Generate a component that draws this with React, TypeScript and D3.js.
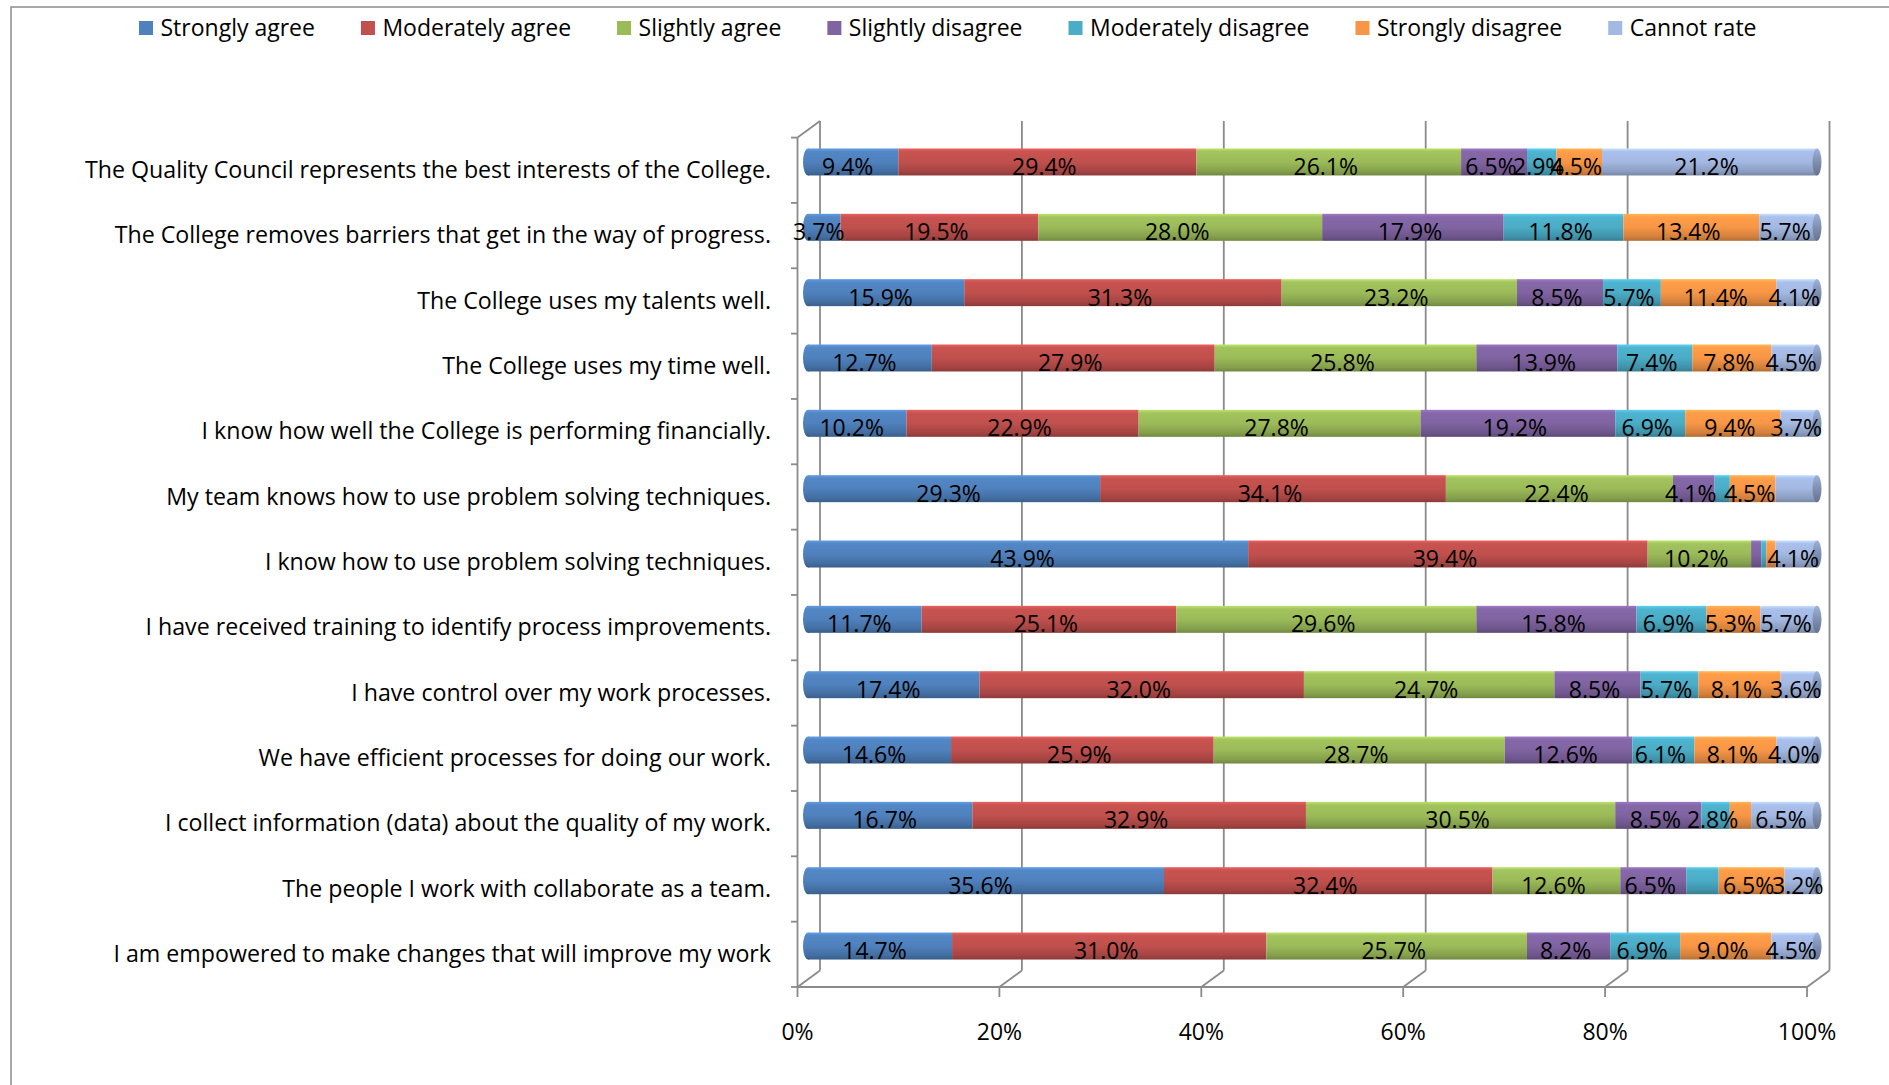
import React from "react";
import * as d3 from "d3";

// Survey statements, listed top to bottom
const categories = [
  "The Quality Council represents the best interests of the College.",
  "The College removes barriers that get in the way of progress.",
  "The College uses my talents well.",
  "The College uses my time well.",
  "I know how well the College is performing financially.",
  "My team knows how to use problem solving techniques.",
  "I know how to use problem solving techniques.",
  "I have received training to identify process improvements.",
  "I have control over my work processes.",
  "We have efficient processes for doing our work.",
  "I collect information (data) about the quality of my work.",
  "The people I work with collaborate as a team.",
  "I am empowered to make changes that will improve my work",
];

const seriesNames = [
  "Strongly agree",
  "Moderately agree",
  "Slightly agree",
  "Slightly disagree",
  "Moderately disagree",
  "Strongly disagree",
  "Cannot rate",
];

const seriesColors = ["#4F81BD", "#C0504D", "#9BBB59", "#8064A2", "#4BACC6", "#F79646", "#A3B8E2"];

// Percent of respondents per answer, one value per statement
const stronglyAgree = [9.4, 3.7, 15.9, 12.7, 10.2, 29.3, 43.9, 11.7, 17.4, 14.6, 16.7, 35.6, 14.7];
const moderatelyAgree = [29.4, 19.5, 31.3, 27.9, 22.9, 34.1, 39.4, 25.1, 32.0, 25.9, 32.9, 32.4, 31.0];
const slightlyAgree = [26.1, 28.0, 23.2, 25.8, 27.8, 22.4, 10.2, 29.6, 24.7, 28.7, 30.5, 12.6, 25.7];
const slightlyDisagree = [6.5, 17.9, 8.5, 13.9, 19.2, 4.1, 1.0, 15.8, 8.5, 12.6, 8.5, 6.5, 8.2];
const moderatelyDisagree = [2.9, 11.8, 5.7, 7.4, 6.9, 1.5, 0.5, 6.9, 5.7, 6.1, 2.8, 3.2, 6.9];
const stronglyDisagree = [4.5, 13.4, 11.4, 7.8, 9.4, 4.5, 0.9, 5.3, 8.1, 8.1, 2.1, 6.5, 9.0];
const cannotRate = [21.2, 5.7, 4.1, 4.5, 3.7, 4.1, 4.1, 5.7, 3.6, 4.0, 6.5, 3.2, 4.5];

// Data labels that are switched off: [statement index, series index]
const hiddenLabels = [
  [5, 4],
  [5, 6],
  [6, 3],
  [6, 4],
  [6, 5],
  [10, 5],
  [11, 4],
];

const xTicks = [0, 20, 40, 60, 80, 100];

const seriesValues = [
  stronglyAgree,
  moderatelyAgree,
  slightlyAgree,
  slightlyDisagree,
  moderatelyDisagree,
  stronglyDisagree,
  cannotRate,
];

const FONT = "'Open Sans', 'DejaVu Sans', sans-serif";
const W = 1889;
const H = 1085;
const GRID = "#8a8a8a";

// Oblique depth of the 3-D plot box (back wall relative to front)
const DX = 22.5;
const DY = -16.5;

function measure(text: string, size: number): number {
  if (typeof document !== "undefined") {
    const c = document.createElement("canvas").getContext("2d");
    if (c) {
      c.font = `${size}px 'Open Sans'`;
      return c.measureText(text).width;
    }
  }
  return text.length * size * 0.5;
}

export default function App() {
  const rows = categories.map((c, i) => {
    const r: Record<string, any> = { category: c };
    seriesNames.forEach((s, k) => (r[s] = seriesValues[k][i]));
    return r;
  });
  const stacked = d3.stack<Record<string, any>>().keys(seriesNames)(rows);

  const xFront = d3.scaleLinear().domain([0, 100]).range([797.5, 1807]);
  const xBar = d3.scaleLinear().domain([0, 100]).range([803, 1817]);
  const yFront = d3.scaleBand<string>().domain(categories).range([137.6, 987]).paddingInner(0);
  const bw = yFront.bandwidth();
  const barH = 27;
  const barY = (c: string) => (yFront(c) as number) + bw / 2 - 8.3;

  const floorY = yFront.range()[1];
  const topY = yFront.range()[0];

  const hidden = new Set(hiddenLabels.map(([r, s]) => `${r}-${s}`));

  // legend layout
  const legendSize = 23;
  let lx = 139;
  const legendItems = seriesNames.map((s, k) => {
    const item = { name: s, x: lx, color: seriesColors[k] };
    lx += 21.5 + measure(s, legendSize) + 46;
    return item;
  });

  const capColor = d3.color(seriesColors[6])!.darker(0.7).formatHex();

  return (
    <div style={{ position: "absolute", left: 0, top: 0, width: W, height: H, background: "#fff" }}>
      <svg width={W} height={H} style={{ display: "block" }} fontFamily={FONT}>
        <defs>
          {seriesColors.map((c, k) => {
            const base = d3.color(c)!;
            return (
              <linearGradient key={k} id={`cyl${k}`} x1="0" y1="0" x2="0" y2="1">
                <stop offset="0" stopColor={base.brighter(0.55).formatHex()} />
                <stop offset="0.12" stopColor={base.brighter(0.12).formatHex()} />
                <stop offset="0.5" stopColor={base.formatHex()} />
                <stop offset="0.85" stopColor={base.darker(0.45).formatHex()} />
                <stop offset="1" stopColor={base.darker(0.9).formatHex()} />
              </linearGradient>
            );
          })}
          <linearGradient id="capGrad" x1="0" y1="0" x2="0" y2="1">
            <stop offset="0" stopColor={d3.color(capColor)!.brighter(0.6).formatHex()} />
            <stop offset="0.5" stopColor={capColor} />
            <stop offset="1" stopColor={d3.color(capColor)!.darker(0.6).formatHex()} />
          </linearGradient>
        </defs>

        {/* chart area frame */}
        <path d={`M11,${H} V7 H${W}`} fill="none" stroke={GRID} strokeWidth={1.5} />

        {/* legend */}
        {legendItems.map((it) => (
          <g key={it.name}>
            <rect x={it.x} y={21} width={14} height={14} fill={it.color} />
            <text x={it.x + 21.5} y={36} fontSize={legendSize} fill="#000">
              {it.name}
            </text>
          </g>
        ))}

        {/* back wall gridlines and floor */}
        {xTicks.map((t) => (
          <g key={t} stroke={GRID} strokeWidth={1.8} fill="none">
            <line x1={xFront(t) + DX} x2={xFront(t) + DX} y1={topY + DY} y2={floorY + DY} />
            <line x1={xFront(t)} y1={floorY} x2={xFront(t) + DX} y2={floorY + DY} />
            <line x1={xFront(t)} x2={xFront(t)} y1={floorY} y2={floorY + 10} />
          </g>
        ))}
        <line x1={xFront(0)} x2={xFront(100)} y1={floorY} y2={floorY} stroke={GRID} strokeWidth={2} />
        {/* left wall */}
        <line x1={xFront(0)} x2={xFront(0)} y1={topY} y2={floorY} stroke={GRID} strokeWidth={1.8} />
        <line x1={xFront(0)} y1={topY} x2={xFront(0) + DX} y2={topY + DY} stroke={GRID} strokeWidth={1.8} />
        {d3.range(categories.length + 1).map((i) => {
          const y = topY + i * bw;
          return <line key={i} x1={xFront(0) - 6.5} x2={xFront(0)} y1={y} y2={y} stroke={GRID} strokeWidth={1.8} />;
        })}

        {/* cylinder bars */}
        {categories.map((c, i) => {
          const cy = barY(c);
          return (
            <g key={c}>
              <ellipse cx={xBar(0) + 5} cy={cy} rx={5} ry={barH / 2} fill="url(#cyl0)" />
              {stacked.map((s, k) => {
                const [a, b] = s[i];
                const x0 = k === 0 ? xBar(a) + 5 : xBar(a);
                return (
                  <rect
                    key={k}
                    x={x0}
                    y={cy - barH / 2}
                    width={Math.max(0, xBar(b) - x0)}
                    height={barH}
                    fill={`url(#cyl${k})`}
                  />
                );
              })}
              <ellipse cx={xBar(100)} cy={cy} rx={4.5} ry={barH / 2} fill="url(#capGrad)" />
            </g>
          );
        })}

        {/* data labels */}
        {categories.map((c, i) =>
          stacked.map((s, k) => {
            if (hidden.has(`${i}-${k}`)) return null;
            const [a, b] = s[i];
            const v = seriesValues[k][i];
            return (
              <text
                key={`${i}-${k}`}
                x={xBar((a + b) / 2) - 3}
                y={barY(c) + 13}
                textAnchor="middle"
                fontSize={23}
                fill="#000"
              >
                {`${v.toFixed(1)}%`}
              </text>
            );
          })
        )}

        {/* category labels */}
        {categories.map((c) => (
          <text key={c} x={771} y={barY(c) + 16} textAnchor="end" fontSize={23.2} fill="#000">
            {c}
          </text>
        ))}

        {/* value axis labels */}
        {xTicks.map((t) => (
          <text key={t} x={xFront(t)} y={1040} textAnchor="middle" fontSize={23} fill="#000">
            {`${t}%`}
          </text>
        ))}
      </svg>
    </div>
  );
}
